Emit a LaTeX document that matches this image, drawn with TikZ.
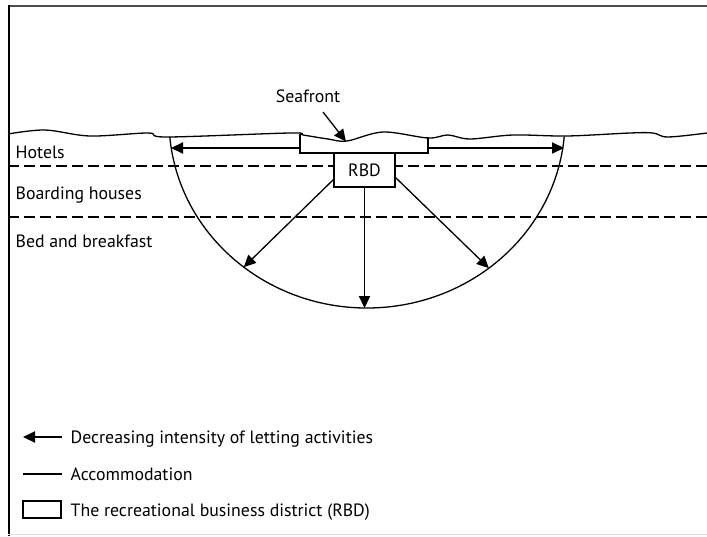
\documentclass[tikz,border=0pt]{standalone}
\usepackage{fontspec}
\setmainfont{PT Sans}
\usetikzlibrary{arrows.meta,calc}
\begin{document}
\begin{tikzpicture}[x=0.5pt,y=-0.5pt,
  line width=0.65pt,
  txt/.style={font=\fontsize{8.9}{10}\selectfont, inner sep=0pt},
  lbl/.style={txt, anchor=base west},
  tip/.style={-{Triangle[length=6pt,width=5.6pt]}},
  layer/.style={dash pattern=on 5.5pt off 2.5pt},
  boxed/.style={txt, draw, fill=white}]

% page extent and frame
\useasboundingbox (0,0) rectangle (707,536);
\draw[line width=1pt, black!70] (8,5.5) -- (707,5.5);
\draw[line width=1pt] (8.5,5) -- (8.5,536);
\draw[line width=0.6pt, black!12] (8,534.5) -- (707,534.5);

% zone boundaries
\draw[layer] (8,166) -- (707,166);
\draw[layer] (8,217) -- (707,217);

% accommodation zone (half ellipse below the coast)
\coordinate (c) at (367,120);
\draw (c) ++(174.9:198 and 188) arc[start angle=174.9, end angle=5.1, x radius=198, y radius=188];

% coastline
\draw plot[smooth, tension=0.55] coordinates {
  (8,134) (45,130) (90,136) (148,133) (167,137) (290,133) (303,135)
  (328,139) (347,141) (383,132) (428,138) (448,135) (470,139) (513,135)
  (567,136) (630,133) (653,133) (668,137) (707,133)};

% seafront strip
\coordinate (sfTL) at (300,134);
\coordinate (sfTR) at (428,137);
\draw (sfTL) -- (300,153) -- (428,153) -- (sfTR);
\coordinate (sfL) at (300,148);
\coordinate (sfR) at (428,148);

% recreational business district
\node[boxed, minimum width=30.5pt, minimum height=17pt] (rbd) at (364.5,170) {RBD};

% letting intensity arrows
\coordinate (hL) at (171,148);
\coordinate (hR) at (564,148);
\draw[tip] (sfL) -- (hL);
\draw[tip] (sfR) -- (hR);
\coordinate (dL) at ($(c)+(128.5:198 and 188)$);
\coordinate (dR) at ($(c)+(52:198 and 188)$);
\coordinate (dB) at ($(c)+(90:198 and 188)$);
\coordinate (rbdL) at (334,179);
\coordinate (rbdR) at (395,177);
\draw[tip] (rbdL) -- (dL);
\draw[tip] (rbdR) -- (dR);
\draw[tip] (rbd.south) -- (rbd.south |- dB);

% seafront label
\node[txt] (sf) at (308,96) {Seafront};
\coordinate (sfA) at (323,112);
\coordinate (sfB) at (346,141.5);
\draw[tip] (sfA) -- (sfB);

% zone labels
\node[lbl] (hot) at (15,158) {Hotels};
\node[lbl] (bh) at (15,199) {Boarding houses};
\node[lbl] (bb) at (15,247) {Bed and breakfast};

% key
\coordinate (k1a) at (23,437);
\coordinate (k1b) at (62,437);
\draw[tip] (k1b) -- (k1a);
\node[lbl] (k1) at (70,443) {Decreasing intensity of letting activities};
\coordinate (k2a) at (23,474);
\coordinate (k2b) at (62,474);
\draw (k2a) -- (k2b);
\node[lbl] (k2) at (70,480) {Accommodation};
\draw (23,501) rectangle (61,518);
\node[lbl] (k3) at (70,516) {The recreational business district (RBD)};
\end{tikzpicture}
\end{document}
